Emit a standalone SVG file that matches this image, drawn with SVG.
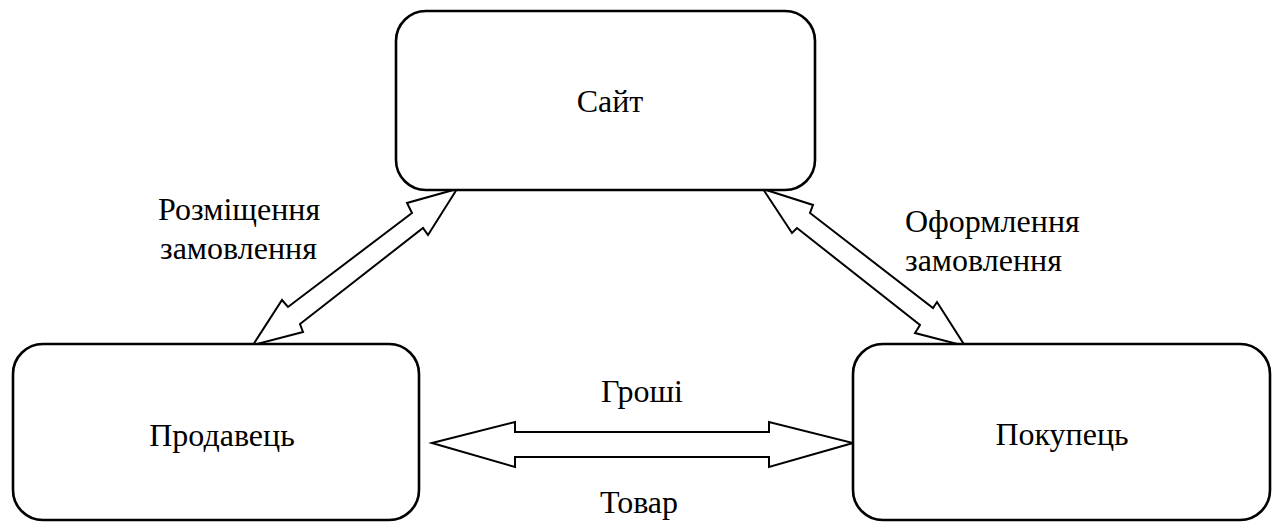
<svg xmlns="http://www.w3.org/2000/svg" width="1277" height="522" viewBox="0 0 1277 522">
  <style>
    .box { fill: #ffffff; stroke: #000000; stroke-width: 2.6; }
    .arrow { fill: #ffffff; stroke: #000000; stroke-width: 2; stroke-linejoin: miter; }
    .mid { text-anchor: middle; }
  </style>
  <rect x="0" y="0" width="1277" height="522" fill="#ffffff"/>

  <!-- double-headed block arrows and their captions -->
  <g id="connectors">
    <polygon class="arrow" points="457,189 428,235 423,228 300,324 303,332 253,345 282,300 288,307 412,213 407,203"/>
    <polygon class="arrow" points="763,189 813,205 810,213 933,308 937,302 965,346 915,333 920,325 797,228 792,233"/>
    <polygon class="arrow" points="432,443 515,422 515,432 769,432 769,422 853,443 769,467 769,457 515,457 515,467"/>
    <text style="font-family:Tinos,'Liberation Serif',serif;font-size:32px" x="158" y="220">Розміщення</text>
    <text style="font-family:Tinos,'Liberation Serif',serif;font-size:32px" x="160" y="259">замовлення</text>
    <text style="font-family:Tinos,'Liberation Serif',serif;font-size:32px" x="905" y="232">Оформлення</text>
    <text style="font-family:Tinos,'Liberation Serif',serif;font-size:32px" x="905" y="271">замовлення</text>
    <text style="font-family:Tinos,'Liberation Serif',serif;font-size:32px" class="mid" x="642" y="402">Гроші</text>
    <text style="font-family:Tinos,'Liberation Serif',serif;font-size:32px" class="mid" x="639" y="513">Товар</text>
  </g>

  <g id="site">
    <rect class="box" x="396" y="11" width="419" height="179" rx="30" ry="30"/>
    <text style="font-family:Tinos,'Liberation Serif',serif;font-size:32px" class="mid" x="610" y="112">Сайт</text>
  </g>

  <g id="seller">
    <rect class="box" x="13" y="344" width="406" height="176" rx="30" ry="30"/>
    <text style="font-family:Tinos,'Liberation Serif',serif;font-size:32px" class="mid" x="222" y="446">Продавець</text>
  </g>

  <g id="buyer">
    <rect class="box" x="853" y="344" width="417" height="176" rx="30" ry="30"/>
    <text style="font-family:Tinos,'Liberation Serif',serif;font-size:32px" class="mid" x="1062" y="445">Покупець</text>
  </g>
</svg>
